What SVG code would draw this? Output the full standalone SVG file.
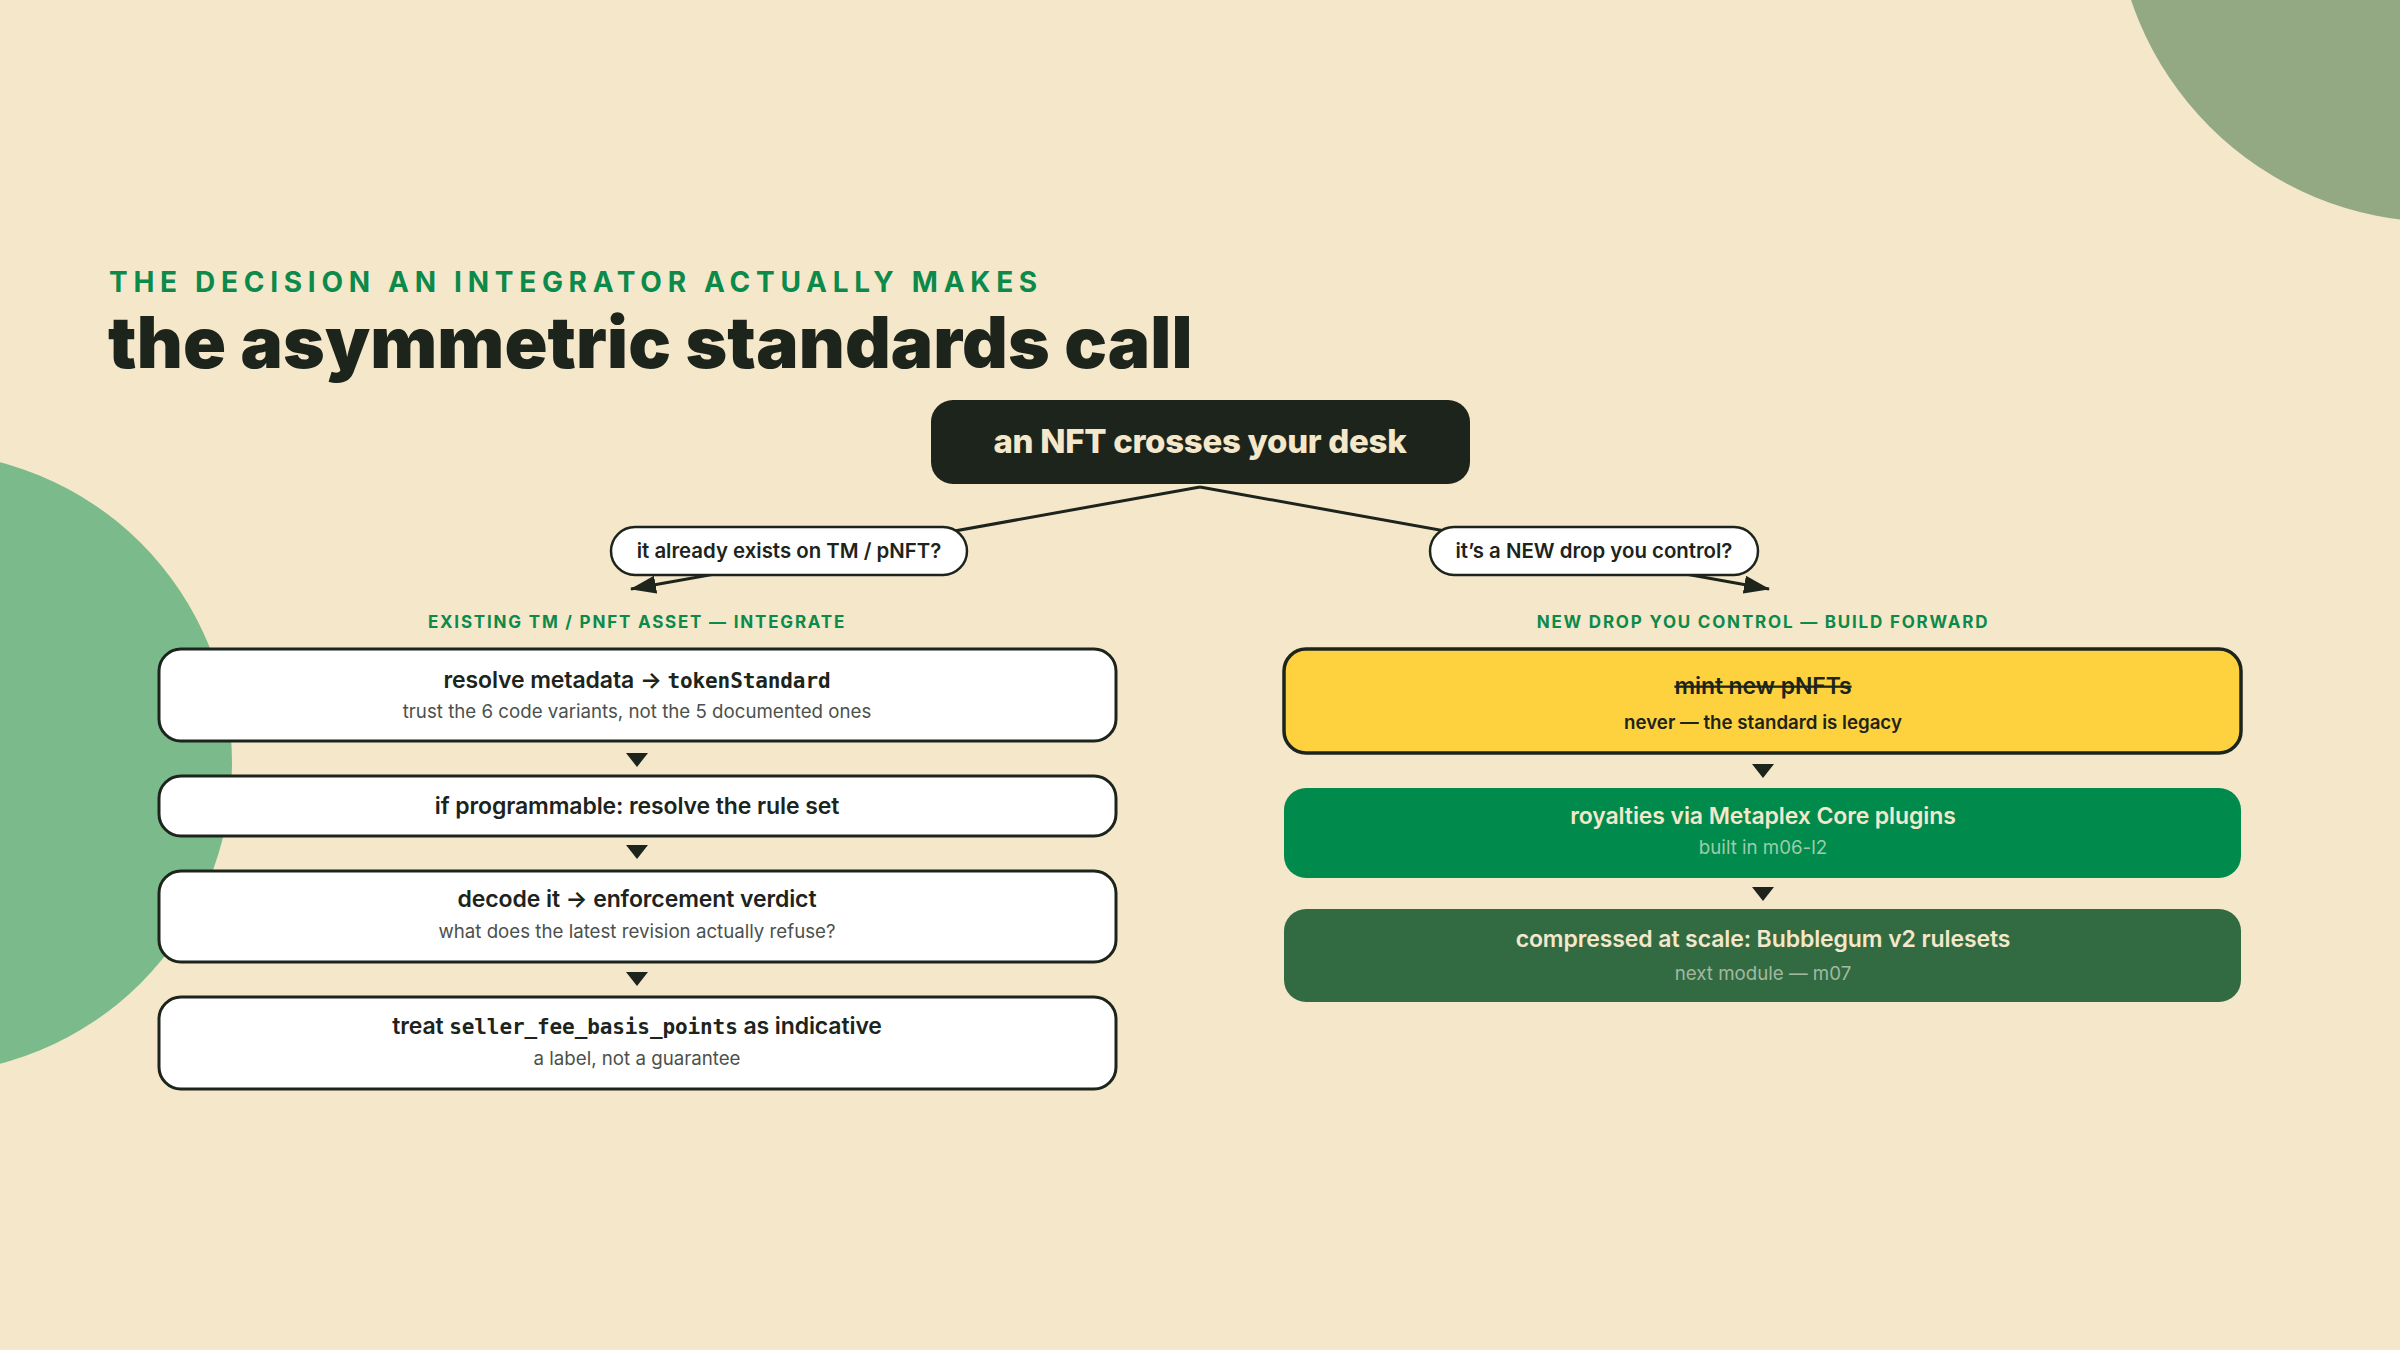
<svg xmlns="http://www.w3.org/2000/svg" width="2400" height="1350" viewBox="0 0 2400 1350">
  <defs>
    <marker id="arrow" viewBox="0 0 26 18" refX="25" refY="9" markerWidth="26" markerHeight="18" markerUnits="userSpaceOnUse" orient="auto">
      <path d="M0,0 L26,9 L0,18 Z" fill="#1C241C"/>
    </marker>
    <style>
      .sans { font-family: Inter, "Noto Sans", "Liberation Sans", sans-serif; }
      .mono { font-family: "DejaVu Sans Mono", "Liberation Mono", monospace; font-weight: 700; font-size: 21px; }
      .kicker { font-family: Inter, "Liberation Sans", sans-serif; font-weight: 700; fill: #0B8A4B; }
      .card { fill: #FFFFFF; stroke: #1C241C; stroke-width: 3; }
      .pill { fill: #FFFFFF; stroke: #1C241C; stroke-width: 2.5; }
      .t { font-family: Inter, "Liberation Sans", sans-serif; font-weight: 600; font-size: 23px; fill: #1C241C; text-anchor: middle; letter-spacing: -0.1px; }
      .s { font-family: Inter, "Liberation Sans", sans-serif; font-weight: 400; font-size: 18.7px; fill: #4B514B; text-anchor: middle; }
      .s-strong { font-weight: 600; fill: #1C241C; }
      .t-light { fill: #F3E7CC; }
      .s-core { fill: #9FCCAA; }
      .s-bg { fill: #A3B9A0; }
      .tri { fill: #1C241C; }
      .conn { stroke: #1C241C; stroke-width: 3; fill: none; }
    </style>
  </defs>

  <rect x="0" y="0" width="2400" height="1350" fill="#F5E7CA"/>
  <circle cx="2440" cy="-104" r="326" fill="#93A984"/>
  <circle cx="-79" cy="763" r="311" fill="#7BBA8A"/>

  <g id="header">
    <text class="kicker" x="109" y="292" font-size="28" letter-spacing="5.8" textLength="934" lengthAdjust="spacing">THE DECISION AN INTEGRATOR ACTUALLY MAKES</text>
    <text class="sans" x="108" y="368" font-size="71" font-weight="900" fill="#1C241C" letter-spacing="-1.5" textLength="1083" lengthAdjust="spacing">the asymmetric standards call</text>
  </g>

  <g id="connectors">
    <line class="conn" x1="1200" y1="487" x2="631" y2="589" marker-end="url(#arrow)"/>
    <line class="conn" x1="1200" y1="487" x2="1769" y2="589" marker-end="url(#arrow)"/>
    <path class="tri" d="M626,753 L648,753 L637,767 Z"/>
    <path class="tri" d="M626,845 L648,845 L637,859 Z"/>
    <path class="tri" d="M626,972 L648,972 L637,986 Z"/>
    <path class="tri" d="M1752,764 L1774,764 L1763,778 Z"/>
    <path class="tri" d="M1752,887 L1774,887 L1763,901 Z"/>
  </g>

  <g id="root">
    <rect x="931" y="400" width="539" height="84" rx="22" fill="#1C241C"/>
    <text class="sans" x="1200" y="453" font-size="33" font-weight="800" fill="#F5E7CA" text-anchor="middle" letter-spacing="-0.3">an NFT crosses your desk</text>
  </g>

  <g id="label-existing">
    <rect class="pill" x="611" y="527" width="356" height="48" rx="24"/>
    <text class="sans" x="789" y="558" font-size="20.4" font-weight="600" fill="#1C241C" text-anchor="middle">it already exists on TM / pNFT?</text>
  </g>

  <g id="label-new">
    <rect class="pill" x="1430" y="527" width="328" height="48" rx="24"/>
    <text class="sans" x="1594" y="558" font-size="20.4" font-weight="600" fill="#1C241C" text-anchor="middle">it’s a NEW drop you control?</text>
  </g>

  <g id="section-existing">
    <text class="kicker" x="637" y="628" font-size="17" letter-spacing="1.8" text-anchor="middle">EXISTING TM / PNFT ASSET — INTEGRATE</text>
  </g>
  <g id="section-new">
    <text class="kicker" x="1763" y="628" font-size="17" letter-spacing="1.8" text-anchor="middle">NEW DROP YOU CONTROL — BUILD FORWARD</text>
  </g>

  <g id="step-resolve-metadata">
    <rect class="card" x="159" y="649" width="957" height="92" rx="22"/>
    <text class="t" x="637" y="688">resolve metadata → <tspan class="mono">tokenStandard</tspan></text>
    <text class="s" x="637" y="718">trust the 6 code variants, not the 5 documented ones</text>
  </g>

  <g id="step-rule-set">
    <rect class="card" x="159" y="776" width="957" height="60" rx="22"/>
    <text class="t" x="637" y="814">if programmable: resolve the rule set</text>
  </g>

  <g id="step-decode">
    <rect class="card" x="159" y="871" width="957" height="91" rx="22"/>
    <text class="t" x="637" y="907">decode it → enforcement verdict</text>
    <text class="s" x="637" y="938">what does the latest revision actually refuse?</text>
  </g>

  <g id="step-fee">
    <rect class="card" x="159" y="997" width="957" height="92" rx="22"/>
    <text class="t" x="637" y="1034">treat <tspan class="mono">seller_fee_basis_points</tspan> as indicative</text>
    <text class="s" x="637" y="1065">a label, not a guarantee</text>
  </g>

  <g id="step-mint">
    <rect x="1284" y="649" width="957" height="104" rx="22" fill="#FDD23E" stroke="#1C241C" stroke-width="3.5"/>
    <text class="t" x="1763" y="694" text-decoration="line-through">mint new pNFTs</text>
    <text class="s s-strong" x="1763" y="729">never — the standard is legacy</text>
  </g>

  <g id="step-core">
    <rect x="1284" y="788" width="957" height="90" rx="22" fill="#008B4C"/>
    <text class="t t-light" x="1763" y="824">royalties via Metaplex Core plugins</text>
    <text class="s s-core" x="1763" y="854">built in m06-l2</text>
  </g>

  <g id="step-bubblegum">
    <rect x="1284" y="909" width="957" height="93" rx="22" fill="#326B41"/>
    <text class="t t-light" x="1763" y="947">compressed at scale: Bubblegum v2 rulesets</text>
    <text class="s s-bg" x="1763" y="980">next module — m07</text>
  </g>
</svg>
